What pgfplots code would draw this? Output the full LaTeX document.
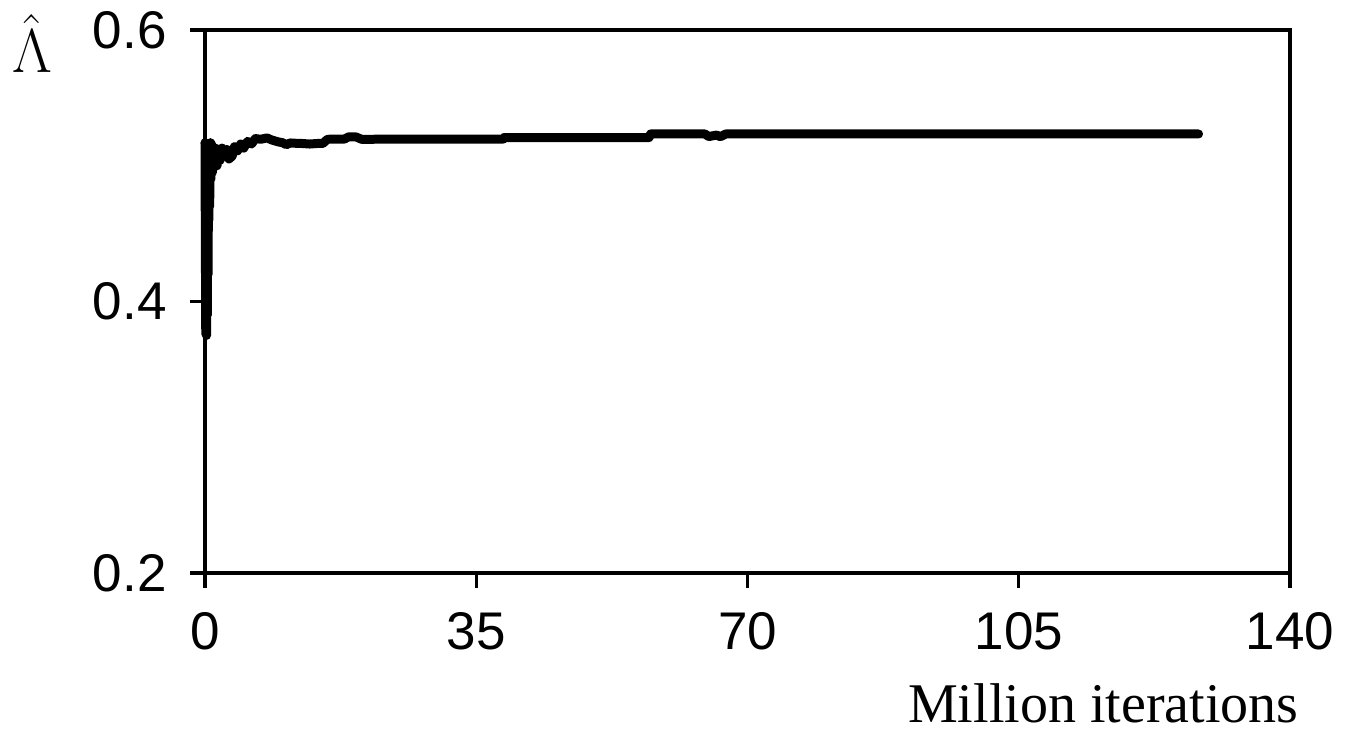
\documentclass[border=0pt]{standalone}
\usepackage{fix-cm}
\usepackage{fontspec}
\setmainfont{Liberation Serif}
\newfontfamily\arial{Liberation Sans}
\usepackage{pgfplots}
\pgfplotsset{compat=1.18}
\begin{document}
\begin{tikzpicture}
\useasboundingbox (-102.5pt,-79.5pt) rectangle (576.5pt,286.5pt);
\begin{axis}[
  at={(0,0)}, anchor=south west,
  scale only axis, width=542.5pt, height=271.5pt,
  xmin=0, xmax=140, ymin=0.2, ymax=0.6,
  xtick={0,35,70,105,140}, ytick={0.2,0.4,0.6},
  tick align=outside, major tick length=7.5pt,
  xtick pos=bottom, ytick pos=left,
  axis line style={line width=1.6pt},
  every tick/.style={line width=1.6pt, black},
  /pgf/number format/assume math mode=true,
  /pgf/number format/fixed, /pgf/number format/precision=1,
  ticklabel style={font=\arial\fontsize{26.5}{30}\selectfont, inner sep=0pt},
  xticklabel style={anchor=north, yshift=-12pt},
  yticklabel style={anchor=east, xshift=-11.5pt},
  every axis y label/.style={at={(rel axis cs:-0.1594,0.975)}, anchor=center, inner sep=0pt},
  every axis x label/.style={at={(rel axis cs:0.828,-0.2762)}, anchor=base, inner sep=0pt},
  ylabel={\fontsize{31}{35}\selectfont$\hat{\Lambda}$},
  xlabel={\fontsize{28}{32}\selectfont Million iterations},
  clip=false,
]
\addplot[black, line width=4.5pt, line join=round, line cap=round] coordinates {
(0.00,0.517) (0.05,0.44) (0.10,0.376) (0.15,0.40) (0.20,0.375) (0.25,0.43)
(0.30,0.39) (0.35,0.46) (0.40,0.42) (0.45,0.50) (0.50,0.46) (0.55,0.515)
(0.60,0.47) (0.70,0.517) (0.75,0.49) (0.85,0.516) (0.95,0.495) (1.05,0.513)
(1.20,0.499) (1.35,0.513) (1.55,0.50) (1.75,0.512) (1.95,0.504) (2.2,0.513)
(2.5,0.507) (2.8,0.512) (3.1,0.505) (3.5,0.507) (3.8,0.514) (4.2,0.511)
(4.6,0.516) (5.0,0.513) (5.5,0.518) (6.0,0.516) (6.5,0.520) (7.2,0.5195)
(8.0,0.5205) (8.6,0.519) (9.5,0.5175) (10.0,0.517) (10.5,0.5155) (11.0,0.5168)
(11.5,0.5166) (12.5,0.5164) (13.5,0.5160) (14.5,0.5164) (15.2,0.5164)
(15.8,0.5195) (18.0,0.5197) (18.5,0.5212) (19.5,0.5212) (20.2,0.5195)
(38.5,0.5197) (38.6,0.5208) (57.3,0.5208) (57.5,0.5234) (64.5,0.5234)
(65.0,0.5215) (66.0,0.5226) (66.5,0.5214) (67.2,0.5234) (128.2,0.5234)
};
\end{axis}
\end{tikzpicture}
\end{document}
